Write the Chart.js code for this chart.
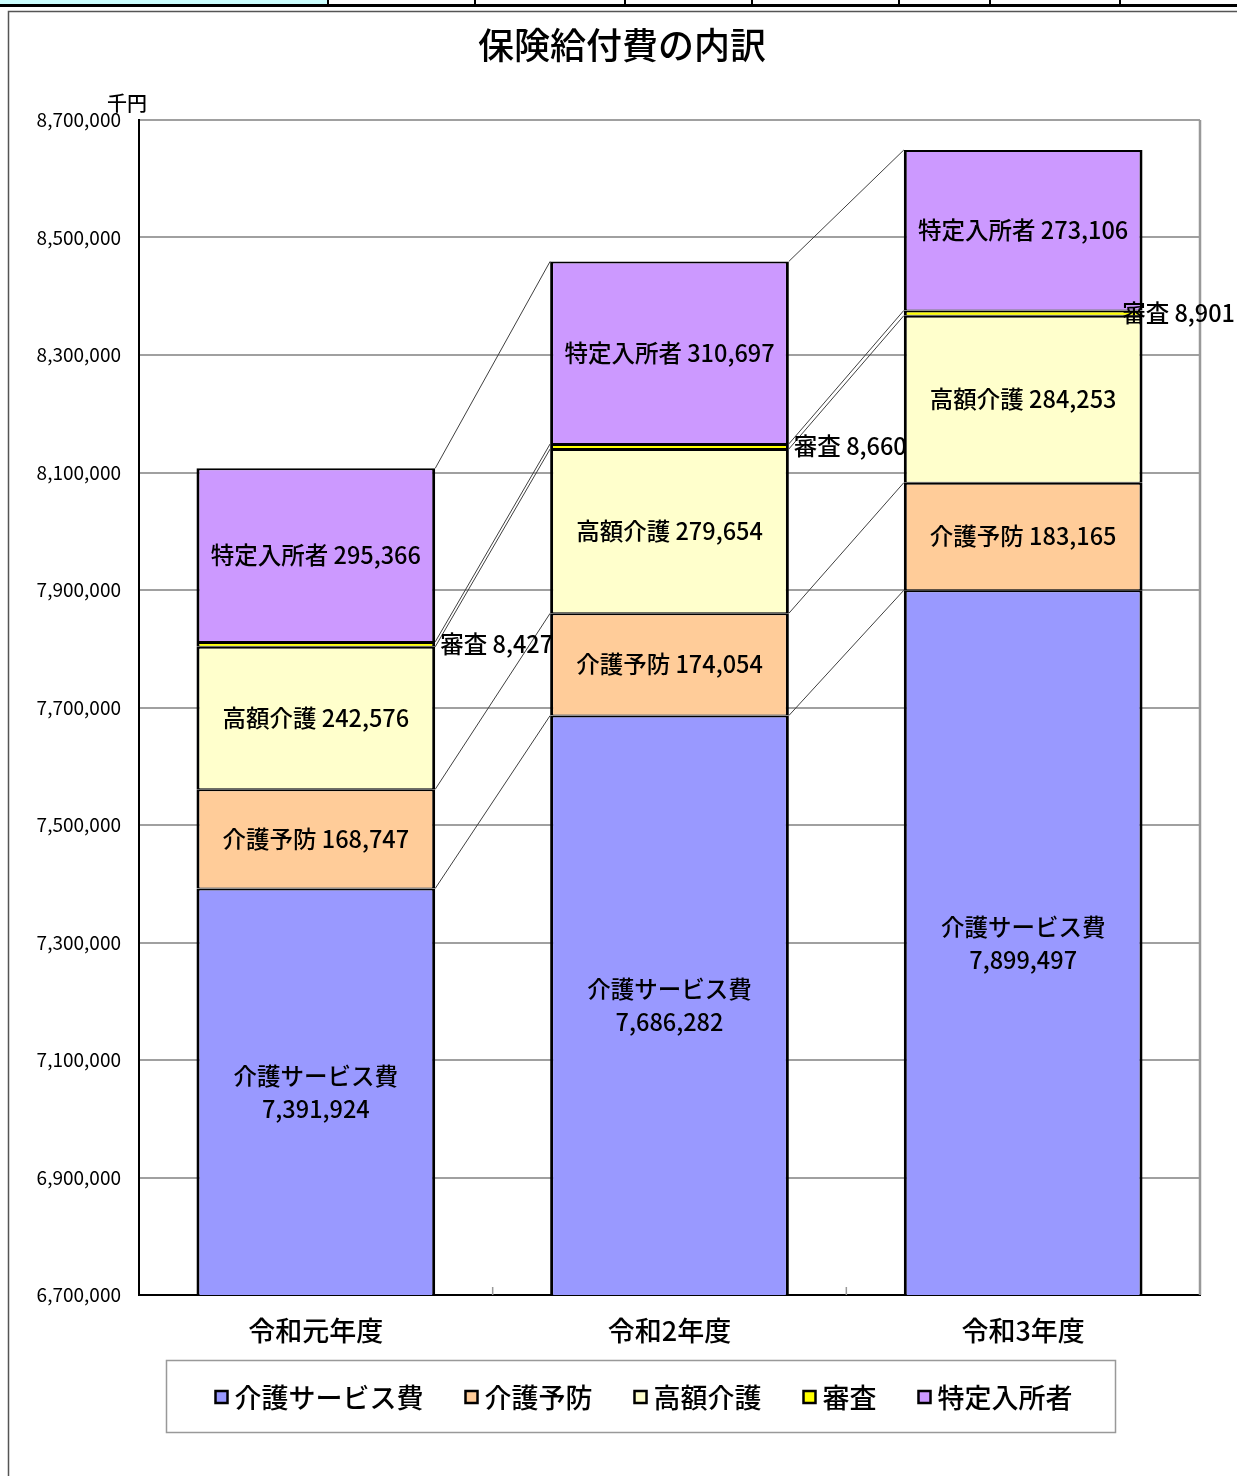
<!DOCTYPE html>
<html lang="ja">
<head>
<meta charset="utf-8">
<title>保険給付費の内訳</title>
<script src="https://cdn.jsdelivr.net/npm/chart.js@4.4.0/dist/chart.umd.min.js"></script>
<style>
  html, body { margin: 0; padding: 0; background: #fff; }
  canvas { display: block; }
</style>
</head>
<body>
<canvas id="kyufuChart" width="1237" height="1476"></canvas>
<script>
/* ================================
   データ (千円)
================================ */
const YEARS = ['令和元年度', '令和2年度', '令和3年度'];
const SERIES_NAMES = ['介護サービス費', '介護予防', '高額介護', '審査', '特定入所者'];
const SERVICE = [7391924, 7686282, 7899497];
const YOBOU = [168747, 174054, 183165];
const KOUGAKU = [242576, 279654, 284253];
const SHINSA = [8427, 8660, 8901];
const TOKUTEI = [295366, 310697, 273106];
const Y_MIN = 6700000, Y_MAX = 8700000, Y_STEP = 200000;

const COLORS = ['#9999ff', '#ffcc99', '#ffffcc', '#ffff00', '#cc99ff'];
const FONT = "'Noto Sans CJK JP', 'Noto Sans', sans-serif";

/* ================================
   装飾 (枠・タイトル・凡例・ラベル)
================================ */
const decoPlugin = {
    id: 'deco',
    beforeDraw(chart) {
        const ctx = chart.ctx;
        ctx.save();
        ctx.fillStyle = '#fff';
        ctx.fillRect(0, 0, chart.width, chart.height);

        // 上の表の切れ端
        ctx.fillStyle = '#ccffff';
        ctx.fillRect(0, 0, 327, 4);
        ctx.fillStyle = '#000';
        ctx.fillRect(0, 4, chart.width, 3);
        [327, 474, 624, 751, 898, 989, 1119].forEach(x => ctx.fillRect(x, 0, 2, 5));

        // グラフの外枠
        ctx.strokeStyle = '#555';
        ctx.lineWidth = 1.5;
        ctx.strokeRect(8.5, 11.5, chart.width + 20, chart.height + 20);

        // タイトル
        ctx.fillStyle = '#000';
        ctx.textAlign = 'center';
        ctx.textBaseline = 'middle';
        ctx.font = `500 36px ${FONT}`;
        ctx.fillText('保険給付費の内訳', 622, 45);

        // 単位
        ctx.font = `500 20px ${FONT}`;
        ctx.textAlign = 'left';
        ctx.fillText('千円', 107, 103);
        ctx.restore();
    },
    beforeDatasetsDraw(chart) {
        const { ctx, chartArea: a, scales: { x } } = chart;
        ctx.save();
        // 右側の枠線
        ctx.strokeStyle = '#999';
        ctx.lineWidth = 2.5;
        ctx.beginPath();
        ctx.moveTo(a.right, a.top);
        ctx.lineTo(a.right, a.bottom);
        ctx.stroke();
        // 内向きの目盛り
        ctx.lineWidth = 1.5;
        for (let i = 0; i < YEARS.length - 1; i++) {
            const px = (x.getPixelForTick(i) + x.getPixelForTick(i + 1)) / 2;
            ctx.beginPath();
            ctx.moveTo(px, a.bottom - 8);
            ctx.lineTo(px, a.bottom);
            ctx.stroke();
        }
        ctx.restore();
    },
    afterDatasetsDraw(chart) {
        const ctx = chart.ctx;
        const bottom = chart.chartArea.bottom;
        ctx.save();

        // 区分線 (棒と棒をつなぐ線)
        ctx.strokeStyle = '#404040';
        ctx.lineWidth = 1;
        chart.data.datasets.forEach((ds, d) => {
            const bars = chart.getDatasetMeta(d).data;
            for (let i = 0; i < bars.length - 1; i++) {
                const a = bars[i], b = bars[i + 1];
                ctx.beginPath();
                ctx.moveTo(a.x + a.width / 2, a.y);
                ctx.lineTo(b.x - b.width / 2, b.y);
                ctx.stroke();
            }
        });

        // データラベル
        ctx.fillStyle = '#000';
        ctx.font = `500 23.5px ${FONT}`;
        ctx.textBaseline = 'middle';
        chart.data.datasets.forEach((ds, d) => {
            chart.getDatasetMeta(d).data.forEach((bar, i) => {
                const val = ds.data[i].toLocaleString('en-US');
                // 一番下の系列は軸の最小値で切れているので、見えている部分の中央
                const cy = (bar.y + Math.min(bar.base, bottom)) / 2;
                if (d === 0) {
                    ctx.textAlign = 'center';
                    ctx.fillText(ds.label, bar.x, cy - 16);
                    ctx.fillText(val, bar.x, cy + 17);
                } else if (ds.label === '審査') {
                    const txt = `${ds.label} ${val}`;
                    const w = ctx.measureText(txt).width;
                    const lx = Math.min(bar.x + bar.width / 2 + 5, chart.width - w - 2);
                    ctx.textAlign = 'left';
                    ctx.fillText(txt, lx, cy);
                } else {
                    ctx.textAlign = 'center';
                    ctx.fillText(`${ds.label} ${val}`, bar.x, cy);
                }
            });
        });
        ctx.restore();
    },
    afterDraw(chart) {
        const ctx = chart.ctx;
        ctx.save();
        // 凡例の枠
        ctx.strokeStyle = '#999';
        ctx.lineWidth = 1.5;
        ctx.strokeRect(166.5, 1360.5, 949, 72);

        ctx.font = `500 27px ${FONT}`;
        ctx.textBaseline = 'middle';
        ctx.textAlign = 'left';
        const items = chart.data.datasets.map(ds => ({
            label: ds.label,
            color: ds.backgroundColor,
            w: ctx.measureText(ds.label).width
        }));
        const gap = 42, box = 12, boxGap = 7;
        const total = items.reduce((s, it) => s + box + boxGap + it.w, 0) + gap * (items.length - 1);
        let lx = 644 - total / 2;
        const cy = 1397;
        items.forEach(it => {
            ctx.fillStyle = it.color;
            ctx.fillRect(lx, cy - box / 2, box, box);
            ctx.strokeStyle = '#000';
            ctx.lineWidth = 2.5;
            ctx.strokeRect(lx, cy - box / 2, box, box);
            ctx.fillStyle = '#000';
            ctx.fillText(it.label, lx + box + boxGap, cy + 1);
            lx += box + boxGap + it.w + gap;
        });
        ctx.restore();
    }
};

/* ================================
   グラフ本体
================================ */
const seriesData = [SERVICE, YOBOU, KOUGAKU, SHINSA, TOKUTEI];

const datasets = SERIES_NAMES.map((name, i) => ({
    label: name,
    data: seriesData[i],
    backgroundColor: COLORS[i],
    borderColor: '#000',
    borderWidth: { top: 2, left: 3, right: 3, bottom: i === 0 ? 3 : 1 },
    borderSkipped: false,
    categoryPercentage: 1,
    barPercentage: 0.675
}));

new Chart(document.getElementById('kyufuChart'), {
    type: 'bar',
    data: { labels: YEARS, datasets: datasets },
    options: {
        responsive: false,
        animation: false,
        layout: { padding: { top: 120, right: 37, bottom: 121, left: 0 } },
        plugins: {
            legend: { display: false },
            title: { display: false },
            tooltip: { enabled: false }
        },
        scales: {
            x: {
                stacked: true,
                grid: { display: false, drawTicks: false },
                border: { display: true, color: '#000', width: 2 },
                ticks: { color: '#000', font: { family: FONT, size: 27, weight: '500' }, padding: 20 },
                afterFit: (scale) => { scale.height = 60; }
            },
            y: {
                stacked: true,
                min: Y_MIN,
                max: Y_MAX,
                grid: { color: '#a0a0a0', lineWidth: 2, drawTicks: false },
                border: { display: true, color: '#000', width: 2 },
                ticks: {
                    stepSize: Y_STEP,
                    color: '#000',
                    padding: 18,
                    font: { family: FONT, size: 19 },
                    callback: (v) => v.toLocaleString('en-US')
                },
                afterFit: (scale) => { scale.width = 139; }
            }
        }
    },
    plugins: [decoPlugin]
});
</script>
</body>
</html>
